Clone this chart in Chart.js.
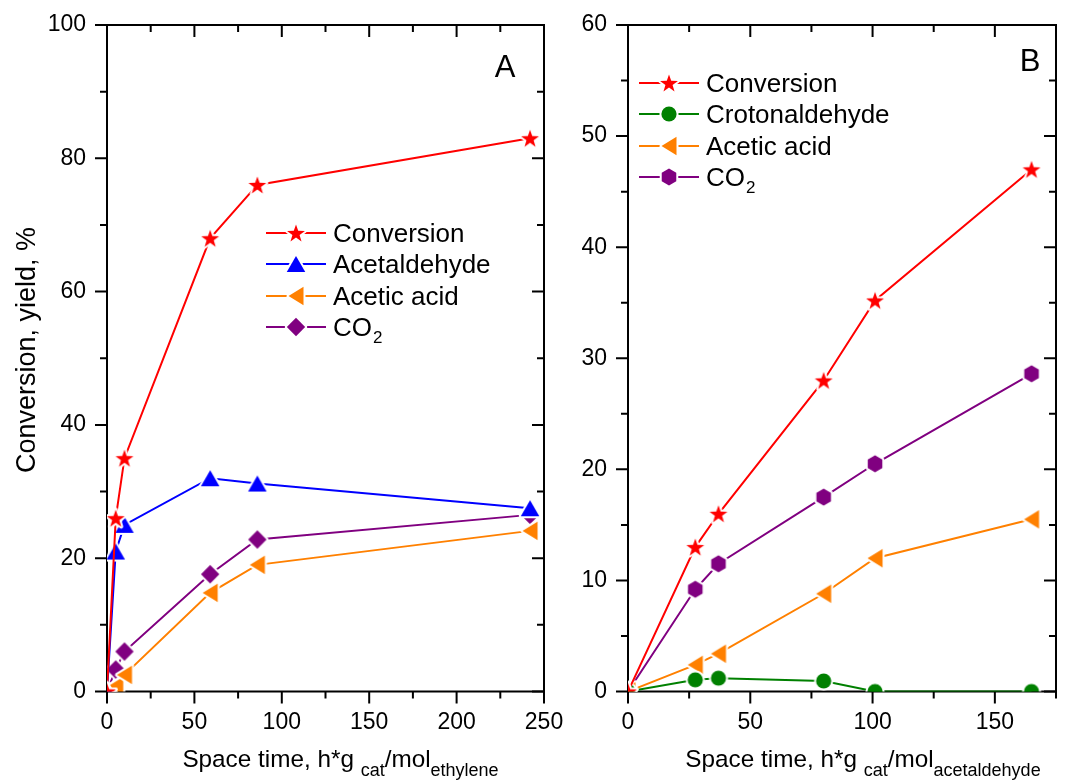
<!DOCTYPE html>
<html>
<head>
<meta charset="utf-8">
<title>Conversion and yields vs space time</title>
<script src="https://cdn.jsdelivr.net/npm/chart.js@4.4.1/dist/chart.umd.min.js"></script>
<style>
  html, body { margin: 0; padding: 0; background: #fff; }
  #wrap { position: relative; width: 1067px; height: 780px; overflow: hidden; background: #fff; }
  #wrap canvas { position: absolute; top: 0; }
</style>
</head>
<body>
<div id="wrap">
  <canvas id="chartA" width="565" height="780" style="left:0;width:565px;height:780px"></canvas>
  <canvas id="chartB" width="502" height="780" style="left:565px;width:502px;height:780px"></canvas>
</div>
<script>
const FONT = '"Liberation Sans", Arial, Helvetica, sans-serif';

// ---- Panel A: ethylene feed ----
const spaceTimeA    = [0, 5, 10, 59, 86, 242];
const conversionA   = [0, 26, 35, 68, 76, 83];
const acetaldehydeA = [0, 21, 25, 32, 31.2, 27.5];
const aceticAcidA   = [0, 0.8, 2.5, 14.8, 19, 24.1];
const co2A          = [0, 3.3, 6, 17.6, 22.8, 26.5];
const xTickLabelsA  = [0, 50, 100, 150, 200, 250];
const yTickLabelsA  = [0, 20, 40, 60, 80, 100];

// ---- Panel B: acetaldehyde feed ----
const spaceTimeB      = [0, 27.5, 37, 80, 101, 165];
const conversionB     = [0, 13, 16, 28, 35.2, 47];
const crotonaldehydeB = [0, 1.05, 1.2, 0.95, 0, 0];
const aceticAcidB     = [0, 2.4, 3.4, 8.8, 12, 15.5];
const co2B            = [0, 9.2, 11.5, 17.5, 20.5, 28.6];
const xTickLabelsB    = [0, 50, 100, 150];
const yTickLabelsB    = [0, 10, 20, 30, 40, 50, 60];

const RED = '#ff0000', BLUE = '#0000ff', ORANGE = '#ff8000', PURPLE = '#800080', GREEN = '#008000';

// Filled symbol with a thin white halo, used as a Chart.js point style image
function marker(shape, color) {
  const s = 30, c = document.createElement('canvas');
  c.width = s; c.height = s;
  const g = c.getContext('2d');
  g.translate(s / 2, s / 2);
  g.beginPath();
  if (shape === 'star') {
    const R = 9.4, r = R * 0.4;
    for (let i = 0; i < 10; i++) {
      const a = -Math.PI / 2 + i * Math.PI / 5, rad = i % 2 ? r : R;
      const px = rad * Math.cos(a), py = rad * Math.sin(a) + 0.8;
      i ? g.lineTo(px, py) : g.moveTo(px, py);
    }
  } else if (shape === 'triangle') {
    const w = 18.5, h = 16;
    g.moveTo(0, -h / 2); g.lineTo(w / 2, h / 2); g.lineTo(-w / 2, h / 2);
  } else if (shape === 'leftTriangle') {
    const w = 18.5, h = 15;
    g.moveTo(-h / 2, 0); g.lineTo(h / 2, -w / 2); g.lineTo(h / 2, w / 2);
  } else if (shape === 'diamond') {
    const d = 9.2;
    g.moveTo(0, -d); g.lineTo(d, 0); g.lineTo(0, d); g.lineTo(-d, 0);
  } else if (shape === 'hexagon') {
    const R = 8.4;
    for (let i = 0; i < 6; i++) {
      const a = -Math.PI / 2 + i * Math.PI / 3;
      const px = R * Math.cos(a), py = R * Math.sin(a);
      i ? g.lineTo(px, py) : g.moveTo(px, py);
    }
  } else {
    g.arc(0, 0, 7.6, 0, Math.PI * 2);
  }
  g.closePath();
  g.lineJoin = 'round';
  g.strokeStyle = '#fff';
  g.lineWidth = 4;
  g.stroke();
  g.fillStyle = color;
  g.fill();
  return c;
}

function series(label, xs, ys, color, shape) {
  return {
    label,
    data: xs.map((x, i) => ({ x, y: ys[i] })),
    borderColor: color,
    backgroundColor: color,
    borderWidth: 2,
    pointStyle: marker(shape, color),
    pointRadius: 9,
    pointHoverRadius: 9,
    tension: 0,
    clip: 0
  };
}

function scaleOptions(xMax, xStep, xLabels, yMax, yStep, yLabels, yWidth) {
  const tickFont = { family: FONT, size: 23 };
  return {
    x: {
      type: 'linear', min: 0, max: xMax,
      ticks: {
        stepSize: xStep, includeBounds: false, autoSkip: false, maxRotation: 0,
        padding: 17, color: '#000', font: tickFont,
        callback: v => xLabels.includes(v) ? String(v) : ''
      },
      grid: { display: false, drawTicks: false },
      border: { display: false },
      afterFit: s => { s.height = 88.5; s.paddingLeft = 0; s.paddingRight = 0; }
    },
    y: {
      type: 'linear', min: 0, max: yMax,
      ticks: {
        stepSize: yStep, includeBounds: false, autoSkip: false,
        padding: 21, color: '#000', font: tickFont,
        callback: v => yLabels.includes(v) ? String(v) : ''
      },
      grid: { display: false, drawTicks: false },
      border: { display: false },
      afterFit: s => { s.width = yWidth; s.paddingTop = 0; s.paddingBottom = 0; }
    }
  };
}

// Closed frame with outward ticks on the bottom/left axes and inward ticks on top/right
const framePlugin = {
  id: 'frame',
  beforeDatasetsDraw(chart) {
    const { ctx, chartArea: a, scales: { x, y } } = chart;
    ctx.save();
    ctx.strokeStyle = '#000';
    ctx.lineWidth = 2;
    ctx.beginPath();
    x.ticks.forEach(t => {
      const px = x.getPixelForValue(t.value), len = t.label !== '' ? 12 : 7;
      ctx.moveTo(px, a.bottom); ctx.lineTo(px, a.bottom + len);
      ctx.moveTo(px, a.top);    ctx.lineTo(px, a.top + len);
    });
    y.ticks.forEach(t => {
      const py = y.getPixelForValue(t.value), len = t.label !== '' ? 12 : 7;
      ctx.moveTo(a.left, py);  ctx.lineTo(a.left - len, py);
      ctx.moveTo(a.right, py); ctx.lineTo(a.right - len, py);
    });
    ctx.stroke();
    ctx.strokeRect(a.left, a.top, a.right - a.left, a.bottom - a.top);
    ctx.restore();
  }
};

// Text runs: [text, isSubscript]
function drawRuns(ctx, runs, cx, baseline, size, subSize, subDrop) {
  const fontOf = sub => (sub ? subSize : size) + 'px ' + FONT;
  let total = 0;
  runs.forEach(([t, sub]) => { ctx.font = fontOf(sub); total += ctx.measureText(t).width; });
  let xPos = cx - total / 2;
  ctx.textAlign = 'left';
  ctx.textBaseline = 'alphabetic';
  runs.forEach(([t, sub]) => {
    ctx.font = fontOf(sub);
    ctx.fillText(t, xPos, baseline + (sub ? subDrop : 0));
    xPos += ctx.measureText(t).width;
  });
}

// Legend label, with '₂' rendered as a lowered small digit
function drawLabel(ctx, label, x, baseline) {
  ctx.textAlign = 'left';
  ctx.textBaseline = 'alphabetic';
  let xPos = x;
  for (const part of label.split(/(₂)/)) {
    if (!part) continue;
    if (part === '₂') {
      ctx.font = '17px ' + FONT;
      ctx.fillText('2', xPos + 1, baseline + 7);
      xPos += ctx.measureText('2').width + 1;
    } else {
      ctx.font = '26px ' + FONT;
      ctx.fillText(part, xPos, baseline);
      xPos += ctx.measureText(part).width;
    }
  }
}

const annotationPlugin = {
  id: 'annotations',
  afterDraw(chart) {
    const o = chart.options.plugins.annotations;
    const { ctx, chartArea: a } = chart;
    ctx.save();
    ctx.fillStyle = '#000';

    // Axis titles
    drawRuns(ctx, o.xTitle, (a.left + a.right) / 2 + o.titleShift, 767, 24.3, 18, 9);
    if (o.yTitle) {
      ctx.save();
      ctx.translate(35, 350);
      ctx.rotate(-Math.PI / 2);
      ctx.font = '27px ' + FONT;
      ctx.textAlign = 'center';
      ctx.textBaseline = 'alphabetic';
      ctx.fillText(o.yTitle, 0, 0);
      ctx.restore();
    }

    // Panel letter
    ctx.font = '31px ' + FONT;
    ctx.textAlign = 'center';
    ctx.textBaseline = 'alphabetic';
    ctx.fillText(o.letter, o.letterX, o.letterY);

    // Legend: line segment with the series symbol in the middle
    chart.data.datasets.forEach((ds, i) => {
      const ry = o.legendRows[i], lx = o.legendX;
      ctx.strokeStyle = ds.borderColor;
      ctx.lineWidth = 2;
      ctx.beginPath();
      ctx.moveTo(lx, ry); ctx.lineTo(lx + 60, ry);
      ctx.stroke();
      const img = ds.pointStyle;
      ctx.drawImage(img, lx + 30 - img.width / 2, ry - img.height / 2);
      ctx.fillStyle = '#000';
      drawLabel(ctx, ds.label, lx + 67, ry + 9);
    });
    ctx.restore();
  }
};

function makeChart(id, datasets, scales, annotations) {
  return new Chart(document.getElementById(id), {
    type: 'line',
    data: { datasets },
    options: {
      responsive: false,
      animation: false,
      devicePixelRatio: 1,
      layout: { padding: annotations.padding },
      scales,
      plugins: {
        legend: { display: false },
        tooltip: { enabled: false },
        annotations
      }
    },
    plugins: [framePlugin, annotationPlugin]
  });
}

makeChart('chartA', [
  series('Conversion',   spaceTimeA, conversionA,   RED,    'star'),
  series('Acetaldehyde', spaceTimeA, acetaldehydeA, BLUE,   'triangle'),
  series('Acetic acid',  spaceTimeA, aceticAcidA,   ORANGE, 'leftTriangle'),
  series('CO₂',          spaceTimeA, co2A,          PURPLE, 'diamond')
], scaleOptions(250, 25, xTickLabelsA, 100, 10, yTickLabelsA, 107), {
  padding: { top: 25, right: 21, left: 0, bottom: 0 },
  xTitle: [['Space time, h*g ', false], ['cat', true], ['/mol', false], ['ethylene', true]],
  titleShift: 15,
  yTitle: 'Conversion, yield, %',
  letter: 'A', letterX: 505, letterY: 77,
  legendX: 266, legendRows: [233, 264, 296, 327]
});

makeChart('chartB', [
  series('Conversion',     spaceTimeB, conversionB,     RED,    'star'),
  series('Crotonaldehyde', spaceTimeB, crotonaldehydeB, GREEN,  'circle'),
  series('Acetic acid',    spaceTimeB, aceticAcidB,     ORANGE, 'leftTriangle'),
  series('CO₂',            spaceTimeB, co2B,            PURPLE, 'hexagon')
], scaleOptions(175, 25, xTickLabelsB, 60, 5, yTickLabelsB, 63), {
  padding: { top: 25, right: 2, left: 0, bottom: 0 },
  xTitle: [['Space time, h*g ', false], ['cat', true], ['/mol', false], ['acetaldehyde', true]],
  titleShift: 21,
  yTitle: null,
  letter: 'B', letterX: 465, letterY: 71,
  legendX: 74, legendRows: [83, 114, 146, 177]
});
</script>
</body>
</html>
